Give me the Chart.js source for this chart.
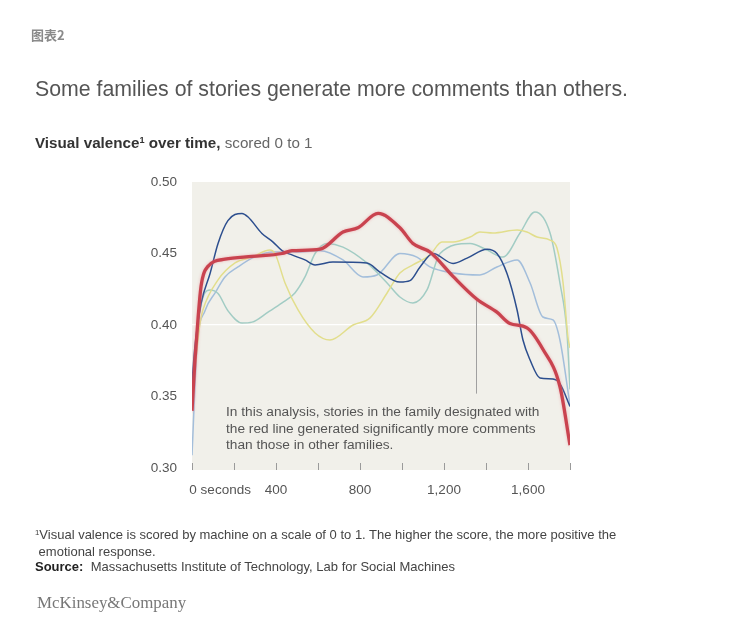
<!DOCTYPE html>
<html>
<head>
<meta charset="utf-8">
<script src="https://cdn.jsdelivr.net/npm/chart.js@4.4.1/dist/chart.umd.min.js"></script>
<style>
  html, body { margin: 0; padding: 0; background: #fff; }
  body { width: 756px; height: 634px; position: relative; overflow: hidden;
         font-family: "Liberation Sans", Arial, sans-serif; }
  canvas { position: absolute; left: 0; top: 0; }
  .t { position: absolute; white-space: nowrap; }
  #tag { left: 31px; top: 28px; font: bold 13px "Noto Sans CJK SC", sans-serif; line-height: 14px; color: #8a8a8a; }
  #title { left: 35px; top: 77px; font-size: 21.3px; line-height: 24px; color: #555; }
  #sub { left: 35px; top: 134px; font-size: 15.2px; line-height: 18px; color: #666; }
  #sub b { color: #333; }
  #note { left: 226px; top: 404px; font-size: 13.7px; line-height: 16.5px; color: #555; }
  #foot { left: 35px; top: 527px; font-size: 13px; line-height: 15px; color: #444; }
  #foot b { color: #222; }
  #logo { left: 37px; top: 594px; font: 16.9px "Liberation Serif", "Times New Roman", serif; line-height: 18px; color: #777; }
  sup { font-size: 0.6em; vertical-align: 0; position: relative; top: -0.55em; }
</style>
</head>
<body>
<canvas id="out" width="756" height="634"></canvas>
<div class="t" id="tag">图表2</div>
<div class="t" id="title">Some families of stories generate more comments than others.</div>
<div class="t" id="sub"><b>Visual valence<sup>1</sup> over time,</b> scored 0 to 1</div>
<div class="t" id="note">In this analysis, stories in the family designated with<br>the red line generated significantly more comments<br>than those in other families.</div>
<div class="t" id="foot"><sup>1</sup>Visual valence is scored by machine on a scale of 0 to 1. The higher the score, the more positive the<br>&nbsp;emotional response.<br><b>Source:</b>&nbsp; Massachusetts Institute of Technology, Lab for Social Machines</div>
<div class="t" id="logo">McKinsey&amp;Company</div>
<script>
// seconds / valence
const redSec = [0, 14, 29, 43, 76, 157, 286, 429, 476, 610, 719, 790, 886, 990, 1052, 1133, 1243, 1357, 1452, 1514, 1595, 1671, 1752, 1800];
const redVal = [0.340, 0.375, 0.405, 0.427, 0.441, 0.446, 0.448, 0.450, 0.452, 0.453, 0.465, 0.468, 0.478, 0.468, 0.457, 0.451, 0.434, 0.418, 0.409, 0.401, 0.398, 0.383, 0.357, 0.316];

const navySec = [0, 14, 43, 86, 124, 171, 238, 267, 333, 386, 429, 476, 538, 586, 671, 833, 895, 990, 1038, 1086, 1148, 1243, 1310, 1405, 1452, 1500, 1548, 1576, 1610, 1657, 1719, 1752, 1800];
const navyVal = [0.360, 0.385, 0.415, 0.436, 0.457, 0.473, 0.478, 0.4755, 0.464, 0.458, 0.452, 0.449, 0.4455, 0.442, 0.444, 0.4434, 0.437, 0.430, 0.431, 0.4406, 0.450, 0.443, 0.4468, 0.453, 0.450, 0.436, 0.4105, 0.3895, 0.3755, 0.363, 0.3622, 0.359, 0.343];

const yellowSec = [0, 38, 52, 124, 205, 286, 371, 395, 443, 505, 586, 657, 767, 848, 929, 990, 1052, 1133, 1190, 1243, 1324, 1371, 1433, 1548, 1595, 1643, 1705, 1738, 1767, 1790, 1800];
const yellowVal = [0.350, 0.401, 0.4105, 0.4315, 0.4434, 0.4475, 0.4524, 0.450, 0.4294, 0.4105, 0.3944, 0.3895, 0.400, 0.405, 0.4224, 0.4364, 0.442, 0.449, 0.458, 0.458, 0.4615, 0.465, 0.4643, 0.4664, 0.465, 0.4615, 0.4594, 0.4538, 0.4294, 0.3916, 0.384];

const tealSec = [0, 38, 86, 124, 171, 238, 286, 362, 429, 490, 538, 586, 643, 719, 833, 929, 990, 1052, 1119, 1181, 1324, 1405, 1481, 1562, 1633, 1705, 1752, 1786, 1800];
const tealVal = [0.350, 0.410, 0.4245, 0.422, 0.410, 0.4014, 0.402, 0.409, 0.4154, 0.4224, 0.4336, 0.450, 0.457, 0.4545, 0.4434, 0.4294, 0.4196, 0.4154, 0.4245, 0.450, 0.457, 0.4524, 0.4475, 0.4643, 0.479, 0.4643, 0.4294, 0.394, 0.355];

const blueSec = [0, 24, 62, 110, 157, 219, 286, 381, 443, 514, 610, 719, 814, 881, 990, 1071, 1133, 1243, 1371, 1452, 1548, 1610, 1671, 1719, 1752, 1800];
const blueVal = [0.309, 0.385, 0.410, 0.4224, 0.4336, 0.4406, 0.4468, 0.451, 0.451, 0.451, 0.452, 0.4455, 0.4336, 0.435, 0.450, 0.4475, 0.4406, 0.4364, 0.435, 0.4406, 0.4455, 0.4294, 0.4056, 0.4035, 0.3895, 0.344];

const xTickValues = [0, 400, 800, 1200, 1600];
const xTickLabels = ["0 seconds", "400", "800", "1,200", "1,600"];
const yTickValues = [0.30, 0.35, 0.40, 0.45, 0.50];
const yTickLabels = ["0.30", "0.35", "0.40", "0.45", "0.50"];

// the callout line points at the red series here
const calloutSec = 1350;
const calloutTop = 0.418;
const calloutBottom = 0.352;

function pts(xs, ys) {
  return xs.map((x, i) => ({ x: x, y: ys[i] }));
}

const plotBack = {
  id: "plotBack",
  beforeDraw(chart) {
    const a = chart.chartArea, ctx = chart.ctx;
    ctx.save();
    ctx.fillStyle = "#f1f0ea";
    ctx.fillRect(a.left, a.top, a.right - a.left, a.bottom - a.top + 2);
    ctx.restore();
  },
  beforeDatasetsDraw(chart) {
    const ctx = chart.ctx, x = chart.scales.x, y = chart.scales.y;
    ctx.save();
    ctx.strokeStyle = "#9a9a9a";
    ctx.lineWidth = 1;
    // tick marks every 200 s along the bottom
    for (let s = 0; s <= 1800; s += 200) {
      const px = Math.round(x.getPixelForValue(s)) + 0.5;
      ctx.beginPath();
      ctx.moveTo(px, chart.chartArea.bottom - 5);
      ctx.lineTo(px, chart.chartArea.bottom + 2);
      ctx.stroke();
    }
    const cx = Math.round(x.getPixelForValue(calloutSec)) + 0.5;
    ctx.strokeStyle = "#a0a0a0";
    ctx.beginPath();
    ctx.moveTo(cx, y.getPixelForValue(calloutTop));
    ctx.lineTo(cx, y.getPixelForValue(calloutBottom));
    ctx.stroke();
    ctx.restore();
  },
  beforeDatasetDraw(chart, args) {
    if (args.index === 0) {
      chart.ctx.save();
      chart.ctx.shadowColor = "rgba(235, 140, 150, 0.6)";
      chart.ctx.shadowBlur = 3;
    }
  },
  afterDatasetDraw(chart, args) {
    if (args.index === 0) chart.ctx.restore();
  }
};

const line = (data, color, width) => ({
  data: data,
  borderColor: color,
  borderWidth: width,
  pointRadius: 0,
  fill: false,
  cubicInterpolationMode: "monotone"
});

const chartConfig = {
  type: "line",
  data: {
    datasets: [
      line(pts(redSec, redVal), "#c9434f", 3.3),
      line(pts(navySec, navyVal), "#2c4e8e", 1.5),
      line(pts(yellowSec, yellowVal), "#e2de8c", 1.5),
      line(pts(tealSec, tealVal), "#a2ccc4", 1.5),
      line(pts(blueSec, blueVal), "#a3bedb", 1.5)
    ]
  },
  options: {
    responsive: false,
    animation: false,
    layout: { padding: { left: 130, right: 186, top: 182, bottom: 120 } },
    plugins: { legend: { display: false }, tooltip: { enabled: false } },
    scales: {
      x: {
        type: "linear",
        min: 0,
        max: 1800,
        afterFit: s => { s.height = 46; },
        afterBuildTicks: s => { s.ticks = xTickValues.map(v => ({ value: v })); },
        grid: { display: false },
        border: { display: false },
        ticks: {
          autoSkip: false,
          maxRotation: 0,
          padding: 6,
          color: "#555",
          font: { family: "Liberation Sans", size: 13.5 },
          callback: v => {
            const lab = xTickLabels[xTickValues.indexOf(v)];
            // keep the "0" itself under its tick
            return v === 0 ? " ".repeat(15) + lab : lab;
          }
        }
      },
      y: {
        min: 0.30,
        max: 0.50,
        afterFit: s => { s.width = 62; },
        afterBuildTicks: s => { s.ticks = yTickValues.map(v => ({ value: v })); },
        grid: {
          drawTicks: false,
          lineWidth: 1.2,
          color: c => (Math.abs(c.tick.value - 0.40) < 1e-6 ? "#ffffff" : "rgba(0,0,0,0)")
        },
        border: { display: false },
        ticks: {
          padding: 15,
          color: "#555",
          font: { family: "Liberation Sans", size: 13.5 },
          callback: v => yTickLabels[yTickValues.findIndex(t => Math.abs(t - v) < 1e-6)]
        }
      }
    }
  },
  plugins: [plotBack]
};

window.chart = new Chart(document.getElementById("out").getContext("2d"), chartConfig);
</script>
</body>
</html>
